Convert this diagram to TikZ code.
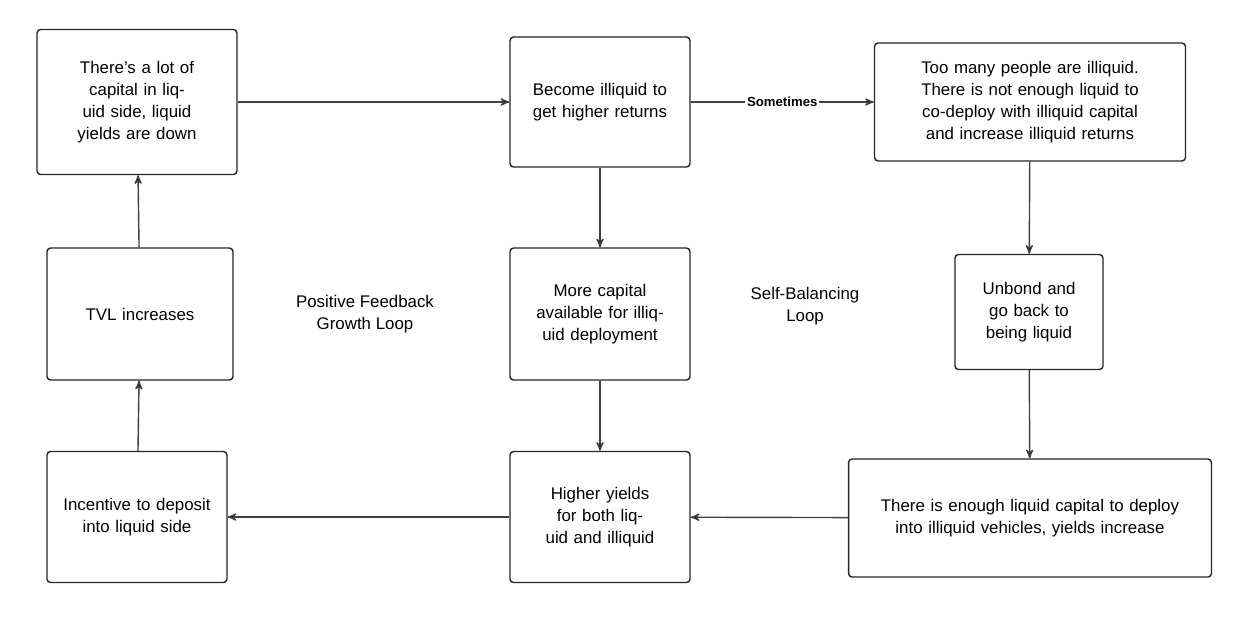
\documentclass[tikz,border=0pt]{standalone}
\usepackage{fontspec}
\setmainfont{Liberation Sans}
\usetikzlibrary{arrows}

\begin{document}
\begin{tikzpicture}[x=0.02cm,y=-0.02cm,->,>=stealth',thick,
  box node/.style={draw=black!85,rounded corners=2pt,align=center,fill=white,
        font=\fontsize{9.6}{12.6}\selectfont,inner sep=3pt},
  loop node/.style={align=center,font=\fontsize{9.6}{12.6}\selectfont}]
  \useasboundingbox (0,0) rectangle (1246,628);
  \node[box node,minimum width=4cm,minimum height=2.9cm,text width=3.2cm] (lots) at (137,102) {There's a lot of capital in liquid side, liquid yields are down};
  \node[box node,minimum width=3.6cm,minimum height=2.6cm,text width=3.2cm] (illiquid) at (600,102) {Become illiquid to get higher returns};
  \node[box node,minimum width=6.22cm,minimum height=2.36cm,text width=5.8cm] (toomany) at (1030,102) {Too many people are illiquid. There is not enough liquid to co-deploy with illiquid capital and increase illiquid returns};
  \node[box node,minimum width=3.72cm,minimum height=2.64cm,text width=3.2cm] (tvl) at (140,314) {TVL increases};
  \node[box node,minimum width=3.6cm,minimum height=2.64cm,text width=3.2cm] (more) at (600,314) {More capital available for illiquid deployment};
  \node[box node,minimum width=2.96cm,minimum height=2.3cm,text width=2.6cm] (unbond) at (1029,312) {Unbond and go back to being liquid};
  \node[box node,minimum width=3.6cm,minimum height=2.62cm,text width=3.2cm] (incent) at (137,517) {Incentive to deposit into liquid side};
  \node[box node,minimum width=3.6cm,minimum height=2.62cm,text width=3.2cm] (higher) at (600,517) {Higher yields for both liquid and illiquid};
  \node[box node,minimum width=7.26cm,minimum height=2.36cm,text width=6.6cm] (enough) at (1030,518) {There is enough liquid capital to deploy into illiquid vehicles, yields increase};
  \node[loop node] (growth) at (365,314) {Positive Feedback\\Growth Loop};
  \node[loop node] (balance) at (805,306) {Self-Balancing\\Loop};

  \path[draw=black!75]
    (lots) edge (illiquid)
    (illiquid) edge node[fill=white,inner sep=1pt,font=\fontsize{7.5}{9}\selectfont\bfseries] {Sometimes} (toomany)
    (illiquid) edge (more)
    (more) edge (higher)
    (toomany) edge (unbond)
    (unbond) edge (enough)
    (enough) edge (higher)
    (higher) edge (incent)
    (incent) edge (tvl)
    (tvl) edge (lots);
\end{tikzpicture}
\end{document}
